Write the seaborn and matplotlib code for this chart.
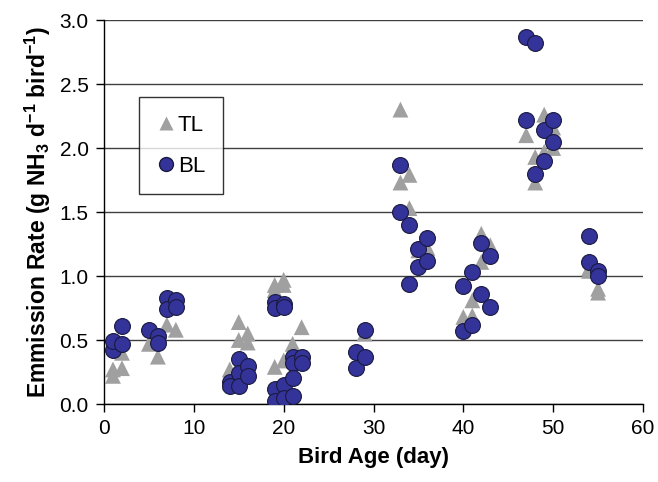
import matplotlib
matplotlib.use("Agg")
import matplotlib.pyplot as plt
import seaborn as sns
import pandas as pd
from matplotlib.lines import Line2D

tl_day = [1, 1, 2, 2, 5, 6, 7, 8, 14, 14, 15, 15, 16, 16, 19, 19, 19, 20, 20, 20,
          21, 21, 22, 29, 33, 33, 34, 34, 35, 36, 36, 40, 41, 41, 42, 42, 43,
          47, 48, 48, 49, 49, 50, 50, 54, 54, 55, 55]
tl_rate = [0.22, 0.27, 0.28, 0.40, 0.47, 0.37, 0.62, 0.58, 0.27, 0.17, 0.64, 0.50,
           0.55, 0.48, 0.93, 0.89, 0.29, 0.97, 0.93, 0.34, 0.47, 0.43, 0.60, 0.55,
           2.30, 1.73, 1.79, 1.53, 1.20, 1.22, 1.15, 0.68, 0.69, 0.81, 1.33, 1.11,
           1.24, 2.10, 1.93, 1.73, 2.26, 1.97, 2.16, 2.00, 1.04, 1.06, 0.87, 0.90]

bl_day = [1, 1, 2, 2, 5, 6, 6, 7, 7, 8, 8, 14, 14, 15, 15, 15, 16, 16,
          19, 19, 19, 19, 20, 20, 20, 20, 21, 21, 21, 21, 22, 22, 28, 28, 29, 29,
          33, 33, 34, 34, 35, 35, 36, 36, 40, 40, 41, 41, 42, 42, 43, 43,
          47, 47, 48, 48, 49, 49, 50, 50, 54, 54, 55, 55]
bl_rate = [0.42, 0.49, 0.61, 0.47, 0.58, 0.53, 0.48, 0.83, 0.74, 0.81, 0.76,
           0.17, 0.14, 0.35, 0.24, 0.14, 0.30, 0.22,
           0.80, 0.75, 0.12, 0.02, 0.78, 0.76, 0.15, 0.05, 0.37, 0.32, 0.20, 0.06,
           0.37, 0.32, 0.41, 0.28, 0.58, 0.37,
           1.87, 1.50, 1.40, 0.94, 1.21, 1.07, 1.30, 1.12, 0.92, 0.57, 1.03, 0.62,
           1.26, 0.86, 1.16, 0.76, 2.87, 2.22, 2.82, 1.80, 2.14, 1.90, 2.22, 2.05,
           1.31, 1.11, 1.04, 1.00]

x_ticks = [0, 10, 20, 30, 40, 50, 60]
y_ticks = [0.0, 0.5, 1.0, 1.5, 2.0, 2.5, 3.0]

sns.set_style("white")
plt.rcParams['font.family'] = ['Liberation Sans', 'DejaVu Sans']
plt.rcParams['mathtext.fontset'] = 'custom'
plt.rcParams['mathtext.rm'] = 'Liberation Sans:bold'
plt.rcParams['mathtext.bf'] = 'Liberation Sans:bold'
plt.rcParams['mathtext.default'] = 'rm'
for key in ['text.color', 'axes.labelcolor', 'xtick.color', 'ytick.color']:
    plt.rcParams[key] = 'black'

tl = pd.DataFrame({"day": tl_day, "rate": tl_rate})
bl = pd.DataFrame({"day": bl_day, "rate": bl_rate})

fig = plt.figure(figsize=(6.58, 4.82), dpi=100)
ax = fig.add_axes([104 / 658, 1 - 404 / 482, (643 - 104) / 658, (404 - 20) / 482])

for y in y_ticks:
    ax.axhline(y, color="#404040", lw=1.0, zorder=0)

tl_col = "#a0a0a0"
bl_col = "#333399"
sns.scatterplot(data=tl, x="day", y="rate", marker="^", s=130, color=tl_col,
                edgecolor="none", ax=ax, zorder=2, legend=False)
sns.scatterplot(data=bl, x="day", y="rate", marker="o", s=130, color=bl_col,
                edgecolor="#1a1a40", linewidth=0.8, ax=ax, zorder=3, legend=False)

ax.set_xlim(0, 60)
ax.set_ylim(0, 3.0)
ax.set_xticks(x_ticks)
ax.set_yticks(y_ticks)
ax.set_yticklabels([f"{v:.1f}" for v in y_ticks])
ax.tick_params(axis="both", which="major", bottom=True, left=True,
               direction="out", length=6, width=1, labelsize=15,
               color="black", labelcolor="black", pad=5)
for s in ["top", "right"]:
    ax.spines[s].set_visible(False)
for s in ["left", "bottom"]:
    ax.spines[s].set_color("black")
    ax.spines[s].set_linewidth(1.0)

ax.set_xlabel("Bird Age (day)", fontsize=16, fontweight="bold", labelpad=6,
              color="black")
ax.set_ylabel(r"Emmission Rate (g NH$_3$ d$^{-1}$ bird$^{-1}$)", fontsize=16.5,
              fontweight="bold", labelpad=5, color="black")

handles = [
    Line2D([], [], marker="^", color=tl_col, linestyle="none", markersize=10,
           markeredgecolor="none", label="TL"),
    Line2D([], [], marker="o", color=bl_col, linestyle="none", markersize=10,
           markeredgecolor="#1a1a40", label="BL"),
]
leg = ax.legend(handles=handles, loc="upper left", bbox_to_anchor=(0.065, 0.80),
                borderaxespad=0, frameon=True, fancybox=False, fontsize=16,
                handletextpad=0.15, labelspacing=0.9, borderpad=0.8,
                handlelength=0.8)
leg.get_frame().set_edgecolor("black")
leg.get_frame().set_linewidth(1.0)
for t in leg.get_texts():
    t.set_color("black")

fig.savefig("out.png", dpi=100)
